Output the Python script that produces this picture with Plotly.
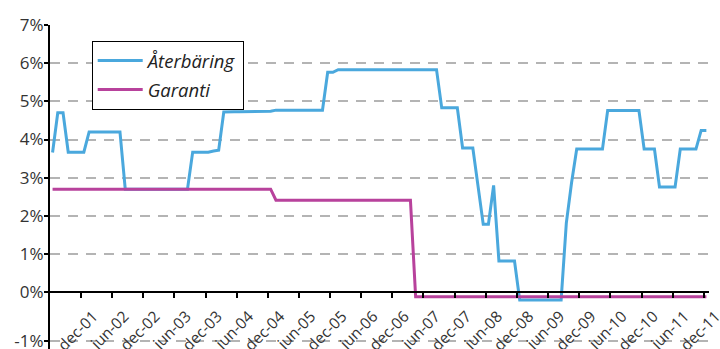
import pandas as pd
import plotly.graph_objects as go

# Monthly series, June 2001 - December 2011 (percent)
months = pd.date_range("2001-06-01", "2011-12-01", freq="MS")

aterbaring = [
    # 2001 (jun-dec)
    3.66, 4.70, 4.70, 3.67, 3.67, 3.67, 3.67,
    # 2002
    4.20, 4.20, 4.20, 4.20, 4.20, 4.20, 4.20, 2.70, 2.70, 2.70, 2.70, 2.70,
    # 2003
    2.70, 2.70, 2.70, 2.70, 2.70, 2.70, 2.70, 2.70, 3.67, 3.67, 3.67, 3.67,
    # 2004
    3.70, 3.72, 4.72, 4.73, 4.73, 4.73, 4.73, 4.73, 4.73, 4.73, 4.74, 4.74,
    # 2005
    4.77, 4.77, 4.77, 4.77, 4.77, 4.77, 4.77, 4.77, 4.77, 4.77, 5.76, 5.76,
    # 2006
    5.83, 5.83, 5.83, 5.83, 5.83, 5.83, 5.83, 5.83, 5.83, 5.83, 5.83, 5.83,
    # 2007
    5.83, 5.83, 5.83, 5.83, 5.83, 5.83, 5.83, 5.83, 4.83, 4.83, 4.83, 4.83,
    # 2008
    3.78, 3.78, 3.78, 2.78, 1.78, 1.78, 2.80, 0.82, 0.82, 0.82, 0.82, -0.20,
    # 2009
    -0.20, -0.20, -0.20, -0.20, -0.20, -0.20, -0.20, -0.20, 1.81, 2.86, 3.75, 3.75,
    # 2010
    3.75, 3.75, 3.75, 3.75, 4.76, 4.76, 4.76, 4.76, 4.76, 4.76, 4.76, 3.75,
    # 2011
    3.75, 3.75, 2.76, 2.76, 2.76, 2.76, 3.75, 3.75, 3.75, 3.75, 4.24, 4.24,
]

garanti = [
    # 2001 (jun-dec)
    2.70, 2.70, 2.70, 2.70, 2.70, 2.70, 2.70,
    # 2002
    2.70, 2.70, 2.70, 2.70, 2.70, 2.70, 2.70, 2.70, 2.70, 2.70, 2.70, 2.70,
    # 2003
    2.70, 2.70, 2.70, 2.70, 2.70, 2.70, 2.70, 2.70, 2.70, 2.70, 2.70, 2.70,
    # 2004
    2.70, 2.70, 2.70, 2.70, 2.70, 2.70, 2.70, 2.70, 2.70, 2.70, 2.70, 2.70,
    # 2005
    2.41, 2.41, 2.41, 2.41, 2.41, 2.41, 2.41, 2.41, 2.41, 2.41, 2.41, 2.41,
    # 2006
    2.41, 2.41, 2.41, 2.41, 2.41, 2.41, 2.41, 2.41, 2.41, 2.41, 2.41, 2.41,
    # 2007
    2.41, 2.41, 2.41, -0.12, -0.12, -0.12, -0.12, -0.12, -0.12, -0.12, -0.12, -0.12,
    # 2008
    -0.12, -0.12, -0.12, -0.12, -0.12, -0.12, -0.12, -0.12, -0.12, -0.12, -0.12, -0.12,
    # 2009
    -0.12, -0.12, -0.12, -0.12, -0.12, -0.12, -0.12, -0.12, -0.12, -0.12, -0.12, -0.12,
    # 2010
    -0.12, -0.12, -0.12, -0.12, -0.12, -0.12, -0.12, -0.12, -0.12, -0.12, -0.12, -0.12,
    # 2011
    -0.12, -0.12, -0.12, -0.12, -0.12, -0.12, -0.12, -0.12, -0.12, -0.12, -0.12, -0.12,
]

# Half-yearly tick marks on the time axis
x_tick_dates = pd.date_range("2001-12-01", "2011-12-01", freq="6MS")
x_tick_labels = [
    "dec-01", "jun-02", "dec-02", "jun-03", "dec-03", "jun-04", "dec-04",
    "jun-05", "dec-05", "jun-06", "dec-06", "jun-07", "dec-07", "jun-08",
    "dec-08", "jun-09", "dec-09", "jun-10", "dec-10", "jun-11", "dec-11",
]

# Percent axis; the -1% line sits at the foot of the axis
y_tick_vals = [-1.27, 0, 1, 2, 3, 4, 5, 6, 7]
y_tick_labels = ["-1%", "0%", "1%", "2%", "3%", "4%", "5%", "6%", "7%"]

BLUE = "#4AA8DD"
MAGENTA = "#B8429C"
FONT = "Open Sans"

fig = go.Figure()
fig.add_trace(go.Scatter(
    x=months, y=aterbaring, name="Återbäring", mode="lines",
    xperiod="M1", xperiodalignment="middle",
    line=dict(color=BLUE, width=3), legendgroup="a",
))
fig.add_trace(go.Scatter(
    x=months, y=garanti, name="Garanti", mode="lines",
    xperiod="M1", xperiodalignment="middle",
    line=dict(color=MAGENTA, width=3), legendgroup="b",
))

plot_top, plot_bottom = 25, 349
y_min, y_max = -1.486, 7.0
zero_frac = (0 - y_min) / (y_max - y_min)

fig.update_layout(
    width=720, height=349,
    margin=dict(l=50, r=11, t=plot_top, b=349 - plot_bottom, pad=0, autoexpand=False),
    paper_bgcolor="white", plot_bgcolor="white",
    font=dict(family=FONT, color="#333333"),
    showlegend=True,
    legend=dict(
        x=0.0633, y=0.951, xanchor="left", yanchor="top",
        bgcolor="white", bordercolor="black", borderwidth=1,
        font=dict(family=FONT, size=18.5, color="#222222", style="italic"),
        tracegroupgap=2, itemwidth=45, entrywidth=160,
    ),
    xaxis=dict(
        type="date",
        range=["2001-06-01", "2012-01-01"],
        anchor="free", position=zero_frac, automargin=False,
        showline=True, linecolor="black", linewidth=2,
        ticks="outside", ticklen=5, tickwidth=1.5, tickcolor="black",
        tickvals=x_tick_dates, ticktext=x_tick_labels,
        tickangle=-45, ticklabelshift=12, ticklabelstandoff=3,
        ticklabeloverflow="allow",
        tickfont=dict(family=FONT, size=15.5, color="#333333"),
        showgrid=False, zeroline=False,
    ),
    yaxis=dict(
        range=[y_min, y_max], automargin=False,
        showline=True, linecolor="black", linewidth=2,
        ticks="outside", ticklen=4, tickwidth=1.5, tickcolor="black",
        tickvals=y_tick_vals, ticktext=y_tick_labels,
        ticklabeloverflow="allow", ticklabelstandoff=-3,
        tickfont=dict(family=FONT, size=17, color="#333333"),
        showgrid=True, gridcolor="#B4B4B4", gridwidth=1.6, griddash="10px,8px",
        zeroline=False,
    ),
)

fig.write_html("out.html")
